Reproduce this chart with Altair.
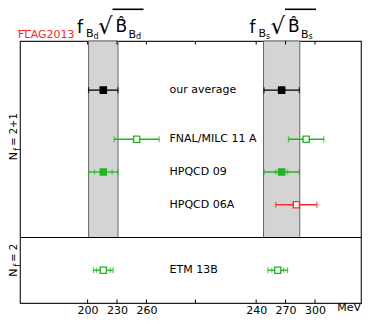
import altair as alt
import pandas as pd

# ---------------- data ----------------
collabs = ["our average", "FNAL/MILC 11 A", "HPQCD 09", "HPQCD 06A", "ETM 13B"]
rows = [1.5, 3, 4, 5, 7]
bd_val = [216, 250, 216, None, 216]
bd_err = [15, 23, 15, None, 10]
bd_stat = [None, None, 9, None, 7]
bs_val = [266, 291, 266, 281, 262]
bs_err = [18, 18, 18, 21, 10]
bs_stat = [None, None, 6, None, 6]
GREEN = "#22b522"
RED = "#ff2a2a"
colors = ["#000000", GREEN, GREEN, RED, GREEN]
filled = [True, False, True, False, False]

band_val = [216, 266]
band_err = [15, 18.5]

tick_labels_bd = [200, 230, 260]
tick_labels_bs = [240, 270, 300]
SEP = 310          # separator tick between the two ranges
D = 132            # offset applied to the Bs range on the common axis

# ---------------- layout ----------------
PADL, PADT, PADR, PADB = 12, 33, 1, 13
W, H = 341, 262
KX = 0.98                      # px per MeV
DOM = [131, 131 + W / KX]
YDOM = 8
DIV = 6            # y of the Nf divider
ky = H / YDOM
KY_REF = 33.75

def ux(px):  # reference page px -> x data units
    return DOM[0] + (px - 20) / KX
def uy_above(py):  # reference page px above the plot -> y units (pixel offset kept)
    return (py - 40.5) / ky
def uy_in(py):  # reference page px inside the plot -> y units (scaled with plot)
    return (py - 40.5) / KY_REF

xs = alt.Scale(domain=DOM, nice=False, zero=False)
ys = alt.Scale(domain=[0, YDOM], reverse=True, nice=False, zero=False)
FONT = "DejaVu Sans"

tick_vals = tick_labels_bd + [SEP] + [v + D for v in tick_labels_bs]
AX = alt.Axis(
    values=[v for v in tick_vals if v != SEP],
    labelExpr=f"datum.value > {SEP} ? format(datum.value - {D}, 'd') : format(datum.value, 'd')",
    ticks=False, domain=False, grid=False, title=None, labelFontSize=11,
    labelFont=FONT, labelColor="black", labelPadding=1, orient="bottom")

# ---------------- build tables ----------------
pts, caps, stats = [], [], []
for i, name in enumerate(collabs):
    for v, e, s, off in ((bd_val[i], bd_err[i], bd_stat[i], 0),
                         (bs_val[i], bs_err[i], bs_stat[i], D)):
        if v is None:
            continue
        pts.append(dict(x=v + off, lo=v - e + off, hi=v + e + off, y=rows[i],
                        col=colors[i], fill=colors[i] if filled[i] else "#ffffff"))
        caps += [dict(x=v - e + off, y=rows[i], col=colors[i]),
                 dict(x=v + e + off, y=rows[i], col=colors[i])]
        if s is not None:
            stats += [dict(x=v - s + off, y=rows[i], col=colors[i]),
                      dict(x=v + s + off, y=rows[i], col=colors[i])]
pts = pd.DataFrame(pts)
caps = pd.DataFrame(caps)
stats = pd.DataFrame(stats)

bands = pd.DataFrame(dict(lo=[band_val[0] - band_err[0], band_val[1] - band_err[1] + D],
                          hi=[band_val[0] + band_err[0], band_val[1] + band_err[1] + D],
                          y=[0, 0], y2=[DIV, DIV]))

labels = pd.DataFrame(dict(x=[ux(169.5)] * len(collabs), y=rows, t=collabs))

tl = 3.5 / ky
ticks = pd.DataFrame(
    [dict(x=v, y=0, y2=tl) for v in tick_vals] +
    [dict(x=v, y=YDOM, y2=YDOM - tl) for v in tick_vals])

# title pieces (text, left px, baseline px, font size)
def title_pieces(shift, sub):
    return [("f", 77 + shift, 32, 17), ("B", 86 + shift, 36.5, 11),
            (sub, 93.5 + shift, 38, 8), ("\u221a", 98 + shift, 33.5, 23),
            ("B\u0302", 115.5 + shift, 31.5, 17), ("B", 128.5 + shift, 37, 11),
            (sub, 136 + shift, 38.5, 8)]
tp = title_pieces(0, "d") + title_pieces(172.5, "s")
titles = pd.DataFrame(dict(t=[p[0] for p in tp], x=[ux(p[1]) for p in tp],
                           y=[uy_above(p[2]) for p in tp], fs=[p[3] for p in tp]))
overl = pd.DataFrame(dict(x=[ux(112.5), ux(285)], x2=[ux(143.5), ux(316)],
                          y=[uy_above(8.8)] * 2))

# Nf labels (rotated, read bottom to top)
nf = pd.DataFrame(dict(
    t=["N", "f", "= 2+1", "N", "f", "= 2"],
    x=[ux(14), ux(17.5), ux(14), ux(14), ux(17.5), ux(14)],
    y=[uy_in(163.5), uy_in(153.5), uy_in(148.5), uy_in(283.5), uy_in(273), uy_in(268)],
    fs=[11, 8, 10, 11, 8, 10]))

flag = pd.DataFrame(dict(t=["FLAG2013"], x=[ux(18)], y=[uy_above(37)]))
flagline = pd.DataFrame(dict(x=[ux(18)], x2=[ux(31)], y=[uy_above(30)]))
mev = pd.DataFrame(dict(t=["MeV"], x=[DOM[1]], y=[YDOM + 8 / ky]))

# ---------------- layers ----------------
X = lambda f="x": alt.X(f"{f}:Q", scale=xs, axis=AX)
Y = lambda f="y": alt.Y(f"{f}:Q", scale=ys, axis=None)

band_layer = alt.Chart(bands).mark_rect(fill="#d4d4d4", stroke="#666666",
                                        strokeWidth=1).encode(
    x=X("lo"), x2="hi", y=Y("y"), y2="y2")

divider = alt.Chart(pd.DataFrame(dict(y=[DIV]))).mark_rule(
    color="black", strokeWidth=1.2).encode(
    y=Y("y"), x=alt.value(0), x2=alt.value(W))

bars = alt.Chart(pts).mark_rule(strokeWidth=1.3).encode(
    x=X("lo"), x2="hi", y=Y("y"), color=alt.Color("col:N", scale=None))

cap_layer = alt.Chart(caps).mark_tick(orient="vertical", size=6, thickness=1.3).encode(
    x=X(), y=Y(), color=alt.Color("col:N", scale=None))

stat_layer = alt.Chart(stats).mark_tick(orient="vertical", size=5, thickness=1.3).encode(
    x=X(), y=Y(), color=alt.Color("col:N", scale=None))

marks = alt.Chart(pts).mark_point(shape="square", filled=True, size=38,
                                  strokeWidth=1.4, opacity=1).encode(
    x=X(), y=Y(), fill=alt.Fill("fill:N", scale=None),
    stroke=alt.Stroke("col:N", scale=None))

label_layer = alt.Chart(labels).mark_text(align="left", baseline="middle",
                                          fontSize=11, font=FONT, color="black").encode(
    x=X(), y=Y(), text="t:N")

tick_layer = alt.Chart(ticks).mark_rule(color="black", strokeWidth=1).encode(
    x=X(), y=Y("y"), y2="y2")

title_layer = alt.Chart(titles).mark_text(align="left", baseline="alphabetic",
                                          font=FONT, color="black").encode(
    x=X(), y=Y(), text="t:N", size=alt.Size("fs:Q", scale=None))

overline = alt.Chart(overl).mark_rule(color="black", strokeWidth=1.6).encode(
    x=X(), x2="x2", y=Y())

nf_layer = alt.Chart(nf).mark_text(align="left", baseline="middle", angle=270,
                                   font=FONT, color="black").encode(
    x=X(), y=Y(), text="t:N", size=alt.Size("fs:Q", scale=None))

flag_layer = alt.Chart(flag).mark_text(align="left", baseline="alphabetic",
                                       fontSize=11, font=FONT, color=RED).encode(
    x=X(), y=Y(), text="t:N")
flag_line = alt.Chart(flagline).mark_rule(color=RED, strokeWidth=1).encode(
    x=X(), x2="x2", y=Y())

mev_layer = alt.Chart(mev).mark_text(align="right", baseline="alphabetic",
                                     fontSize=11, font=FONT, color="black").encode(
    x=X(), y=Y(), text="t:N")

chart = alt.layer(
    band_layer, divider, bars, cap_layer, stat_layer, marks, label_layer,
    tick_layer, title_layer, overline, nf_layer, flag_layer, flag_line, mev_layer
).properties(
    width=W, height=H,
    autosize=alt.AutoSizeParams(type="none"),
    padding={"left": PADL, "top": PADT, "right": PADR, "bottom": PADB},
).configure_view(stroke="#222222", strokeWidth=1.2)

chart.save("out.html", embed_options={"renderer": "svg", "actions": False})
